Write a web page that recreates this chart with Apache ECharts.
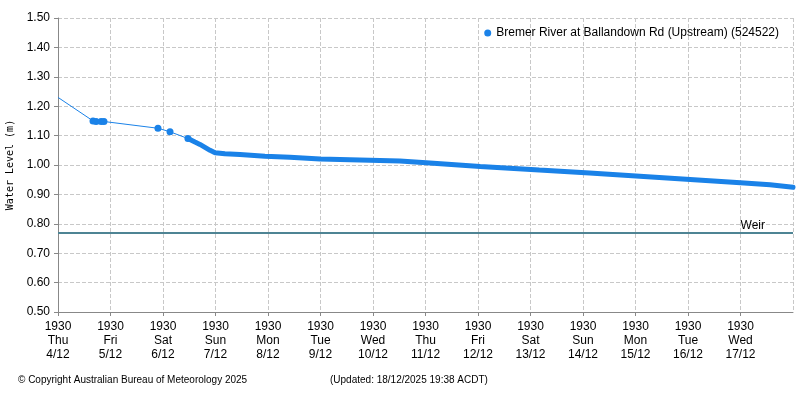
<!DOCTYPE html>
<html><head><meta charset="utf-8">
<script src="https://cdn.jsdelivr.net/npm/echarts@6/dist/echarts.min.js"></script>
<style>html,body{margin:0;padding:0;background:#fff}#c{width:800px;height:400px}</style>
</head><body><div id="c"></div>
<script>
const dayLabels = ['1930\nThu\n4/12','1930\nFri\n5/12','1930\nSat\n6/12','1930\nSun\n7/12','1930\nMon\n8/12','1930\nTue\n9/12','1930\nWed\n10/12','1930\nThu\n11/12','1930\nFri\n12/12','1930\nSat\n13/12','1930\nSun\n14/12','1930\nMon\n15/12','1930\nTue\n16/12','1930\nWed\n17/12'];
// hours since 4/12 19:30
const sparseHours = [0,16,17.4,19.7,21,45.7,51.2,59.4];
const sparseLevels = [1.23,1.15,1.148,1.148,1.148,1.125,1.113,1.09];
const denseHours = [59.4,60.3,62.6,64.9,67.2,69.5,71.8,76.3,83.2,94.6,106,119.8,138,156.3,170,193,220,243,266,289,312,325.5,336];
const denseLevels = [1.09,1.085,1.078,1.07,1.06,1.05,1.042,1.038,1.036,1.03,1.026,1.02,1.017,1.014,1.007,0.995,0.983,0.973,0.962,0.951,0.94,0.933,0.924];
const weirLevel = 0.765;
const name = 'Bremer River at Ballandown Rd (Upstream) (524522)';
const blue = '#1a82e8';
const F = 'Liberation Sans';
const chart = echarts.init(document.getElementById('c'));
chart.setOption({
  animation:false,
  textStyle:{fontFamily:F},
  grid:{left:58,right:7,top:18,bottom:88,outerBoundsMode:'none'},
  legend:{right:16,top:22,icon:'circle',itemWidth:7,itemHeight:7,itemGap:5,
    textStyle:{fontFamily:F,fontSize:12,color:'#000'},data:[name]},
  xAxis:{type:'value',min:0,max:336,interval:24,
    axisLine:{lineStyle:{color:'#888'}},axisTick:{show:true,length:4,lineStyle:{color:'#888'}},
    splitLine:{lineStyle:{type:'dashed',color:'#c8c8c8'}},
    axisLabel:{color:'#000',fontSize:12,lineHeight:14,showMaxLabel:false,formatter:(v)=>dayLabels[Math.round(v/24)]||''}},
  yAxis:{type:'value',min:0.5,max:1.5,interval:0.1,name:'Water Level (m)',nameLocation:'middle',nameGap:36,
    nameTextStyle:{fontFamily:'DejaVu Sans Mono',fontSize:10,color:'#000'},
    axisLine:{show:true,lineStyle:{color:'#888'}},axisTick:{show:true,length:4,lineStyle:{color:'#888'}},
    splitLine:{lineStyle:{type:'dashed',color:'#c8c8c8'}},
    axisLabel:{color:'#000',fontSize:12,formatter:(v)=>v.toFixed(2)}},
  series:[
    {name:name,type:'line',data:sparseHours.map((h,i)=>({value:[h,sparseLevels[i]],symbolSize:i===0?0:7})),
     symbol:'circle',showSymbol:true,color:blue,lineStyle:{width:1,color:blue},itemStyle:{color:blue},z:3,
     markLine:{silent:true,symbol:'none',data:[{yAxis:weirLevel}],lineStyle:{color:'#4e8494',width:2,type:'solid'},
       label:{position:'insideEndTop',formatter:'Weir',color:'#000',fontSize:12,distance:[28,1]}}},
    {name:name,type:'line',data:denseHours.map((h,i)=>[h,denseLevels[i]]),showSymbol:false,
     color:blue,lineStyle:{width:5,color:blue,cap:'round'},z:3}
  ],
  graphic:[
    {type:'text',left:18,top:375,style:{text:'© Copyright Australian Bureau of Meteorology 2025',font:'10px '+F,fill:'#000'}},
    {type:'text',left:330,top:375,style:{text:'(Updated: 18/12/2025 19:38 ACDT)',font:'10px '+F,fill:'#000'}}
  ]
});
</script></body></html>
